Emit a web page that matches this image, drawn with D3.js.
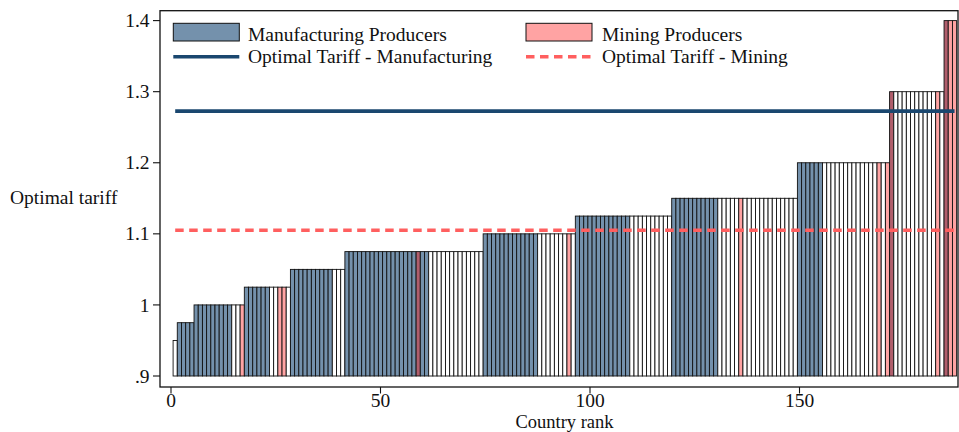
<!DOCTYPE html>
<html>
<head>
<meta charset="utf-8">
<script src="https://cdn.jsdelivr.net/npm/d3@7"></script>
<style>
  html, body { margin: 0; padding: 0; background: #fff; }
  text { font-family: "Liberation Serif", "Times New Roman", serif; fill: #111; }
</style>
</head>
<body>
<script>
// ---------- DATA ----------
// Country ranks 1..187 (categories)
const countryRanks = [
  1,2,3,4,5,6,7,8,9,10,11,12,13,14,15,16,17,18,19,20,21,22,23,24,25,26,27,28,29,30,
  31,32,33,34,35,36,37,38,39,40,41,42,43,44,45,46,47,48,49,50,51,52,53,54,55,56,57,58,59,60,
  61,62,63,64,65,66,67,68,69,70,71,72,73,74,75,76,77,78,79,80,81,82,83,84,85,86,87,88,89,90,
  91,92,93,94,95,96,97,98,99,100,101,102,103,104,105,106,107,108,109,110,111,112,113,114,115,116,117,118,119,120,
  121,122,123,124,125,126,127,128,129,130,131,132,133,134,135,136,137,138,139,140,141,142,143,144,145,146,147,148,149,150,
  151,152,153,154,155,156,157,158,159,160,161,162,163,164,165,166,167,168,169,170,171,172,173,174,175,176,177,178,179,180,
  181,182,183,184,185,186,187
];
// Optimal tariff per rank
const optimalTariff = [
  0.95,
  0.975,0.975,0.975,0.975,
  1.0,1.0,1.0,1.0,1.0,1.0,1.0,1.0,1.0,1.0,1.0,1.0,
  1.025,1.025,1.025,1.025,1.025,1.025,1.025,1.025,1.025,1.025,1.025,
  1.05,1.05,1.05,1.05,1.05,1.05,1.05,1.05,1.05,1.05,1.05,1.05,1.05,
  1.075,1.075,1.075,1.075,1.075,1.075,1.075,1.075,1.075,1.075,1.075,1.075,1.075,1.075,1.075,1.075,1.075,
  1.075,1.075,1.075,1.075,1.075,1.075,1.075,1.075,1.075,1.075,1.075,1.075,1.075,1.075,1.075,1.075,
  1.1,1.1,1.1,1.1,1.1,1.1,1.1,1.1,1.1,1.1,1.1,1.1,1.1,1.1,1.1,1.1,1.1,1.1,1.1,1.1,1.1,1.1,
  1.125,1.125,1.125,1.125,1.125,1.125,1.125,1.125,1.125,1.125,1.125,1.125,1.125,1.125,1.125,1.125,1.125,1.125,1.125,1.125,1.125,1.125,1.125,
  1.15,1.15,1.15,1.15,1.15,1.15,1.15,1.15,1.15,1.15,1.15,1.15,1.15,1.15,1.15,
  1.15,1.15,1.15,1.15,1.15,1.15,1.15,1.15,1.15,1.15,1.15,1.15,1.15,1.15,1.15,
  1.2,1.2,1.2,1.2,1.2,1.2,1.2,1.2,1.2,1.2,1.2,1.2,1.2,1.2,1.2,1.2,1.2,1.2,1.2,1.2,1.2,1.2,
  1.3,1.3,1.3,1.3,1.3,1.3,1.3,1.3,1.3,1.3,1.3,1.3,1.3,
  1.4,1.4,1.4
];
// Ranks of manufacturing producers
const manufacturingRanks = [
  2,3,4,5,6,7,8,9,10,11,12,13,14,
  18,19,20,21,22,23,
  29,30,31,32,33,34,35,36,37,38,
  42,43,44,45,46,47,48,49,50,51,52,53,54,55,56,57,58,59,60,61,
  75,76,77,78,79,80,81,82,83,84,85,86,87,
  97,98,99,100,101,102,103,104,105,106,107,108,109,
  120,121,122,123,124,125,126,127,128,129,130,
  150,151,152,153,154,155,
  172,185
];
// Ranks of mining producers
const miningRanks = [17,26,27,59,95,136,169,171,172,183,185,186,187];

// Optimal tariff reference lines
const optimalManufacturing = 1.2727;
const optimalMining = 1.105;

const xTicks = [0, 50, 100, 150];
const yTicks = [0.9, 1.0, 1.1, 1.2, 1.3, 1.4];
const yTickLabels = [".9", "1", "1.1", "1.2", "1.3", "1.4"];
const legendLabels = ["Manufacturing Producers", "Mining Producers",
                      "Optimal Tariff - Manufacturing", "Optimal Tariff - Mining"];

// ---------- STYLE ----------
const W = 959, H = 432;
const FS = 19.5;
const colManuf = "#7491ac";
const colMining = "#ffa3a3";
const colBoth = "#b05e6c";
const colManufLine = "#1a476f";
const colMiningLine = "#ff5f5f";

const frame = { left: 160, right: 958, top: 10.7, bottom: 387 };

const x = d3.scaleLinear().domain([0, 100]).range([171, 590]);
const y = d3.scaleLinear().domain([0.9, 1.4]).range([376, 20.6]);

const svg = d3.select("body").append("svg")
  .attr("width", W).attr("height", H);

const manufSet = new Set(manufacturingRanks);
const miningSet = new Set(miningRanks);
const bars = countryRanks.map((r, i) => ({
  rank: r, value: optimalTariff[i],
  m: manufSet.has(r), n: miningSet.has(r)
}));

function fillFor(d) {
  if (d.m && d.n) return colBoth;
  if (d.m) return colManuf;
  if (d.n) return colMining;
  return "#ffffff";
}

// bars
svg.append("g").selectAll("rect").data(bars).join("rect")
  .attr("x", d => x(d.rank - 0.5))
  .attr("width", d => x(d.rank + 0.5) - x(d.rank - 0.5))
  .attr("y", d => y(d.value))
  .attr("height", d => y(0.9) - y(d.value))
  .attr("fill", fillFor)
  .attr("stroke", "#111")
  .attr("stroke-width", 0.9);

// optimal tariff lines
const xs = d3.extent(countryRanks);
svg.append("line")
  .attr("x1", x(xs[0])).attr("x2", x(xs[1]))
  .attr("y1", y(optimalManufacturing)).attr("y2", y(optimalManufacturing))
  .attr("stroke", colManufLine).attr("stroke-width", 3.6);
svg.append("line")
  .attr("x1", x(xs[0])).attr("x2", x(xs[1]))
  .attr("y1", y(optimalMining)).attr("y2", y(optimalMining))
  .attr("stroke", colMiningLine).attr("stroke-width", 3.6)
  .attr("stroke-dasharray", "8.5,5.5");

// frame
svg.append("rect")
  .attr("x", frame.left).attr("y", frame.top)
  .attr("width", frame.right - frame.left).attr("height", frame.bottom - frame.top)
  .attr("fill", "none").attr("stroke", "#111").attr("stroke-width", 1.3);

// y axis ticks
const yAx = svg.append("g");
yAx.selectAll("line").data(yTicks).join("line")
  .attr("x1", 153).attr("x2", frame.left)
  .attr("y1", d => y(d)).attr("y2", d => y(d))
  .attr("stroke", "#111").attr("stroke-width", 1.1);
yAx.selectAll("text").data(yTicks).join("text")
  .attr("x", 149.5).attr("y", d => y(d)).attr("dy", "0.34em")
  .attr("text-anchor", "end").attr("font-size", FS)
  .text((d, i) => yTickLabels[i]);

// x axis ticks
const xAx = svg.append("g");
xAx.selectAll("line").data(xTicks).join("line")
  .attr("x1", d => x(d)).attr("x2", d => x(d))
  .attr("y1", frame.bottom).attr("y2", frame.bottom + 6.5)
  .attr("stroke", "#111").attr("stroke-width", 1.1);
xAx.selectAll("text").data(xTicks).join("text")
  .attr("x", d => x(d)).attr("y", 407)
  .attr("text-anchor", "middle").attr("font-size", FS)
  .text(d => d);

// axis titles
svg.append("text").attr("x", 564.5).attr("y", 427.6)
  .attr("text-anchor", "middle").attr("font-size", 18.5).text("Country rank");
svg.append("text").attr("x", 10).attr("y", 203.5)
  .attr("text-anchor", "start").attr("font-size", FS).text("Optimal tariff");

// legend
const lg = svg.append("g");
const col1 = 173.3, col2 = 526, boxW = 66;
lg.append("rect").attr("x", col1).attr("y", 23.3).attr("width", boxW).attr("height", 17.7)
  .attr("fill", colManuf).attr("stroke", "#111").attr("stroke-width", 1);
lg.append("rect").attr("x", col2).attr("y", 23.3).attr("width", boxW).attr("height", 17.7)
  .attr("fill", colMining).attr("stroke", "#111").attr("stroke-width", 1);
lg.append("line").attr("x1", col1).attr("x2", col1 + boxW).attr("y1", 56.7).attr("y2", 56.7)
  .attr("stroke", colManufLine).attr("stroke-width", 3.6);
lg.append("line").attr("x1", col2).attr("x2", col2 + boxW).attr("y1", 56.7).attr("y2", 56.7)
  .attr("stroke", colMiningLine).attr("stroke-width", 3.6).attr("stroke-dasharray", "8.5,5.5");
const lgPos = [[248, 41], [602, 41], [248, 63.3], [602, 63.3]];
lg.selectAll("text").data(legendLabels).join("text")
  .attr("x", (d, i) => lgPos[i][0]).attr("y", (d, i) => lgPos[i][1])
  .attr("font-size", FS).text(d => d);
</script>
</body>
</html>
